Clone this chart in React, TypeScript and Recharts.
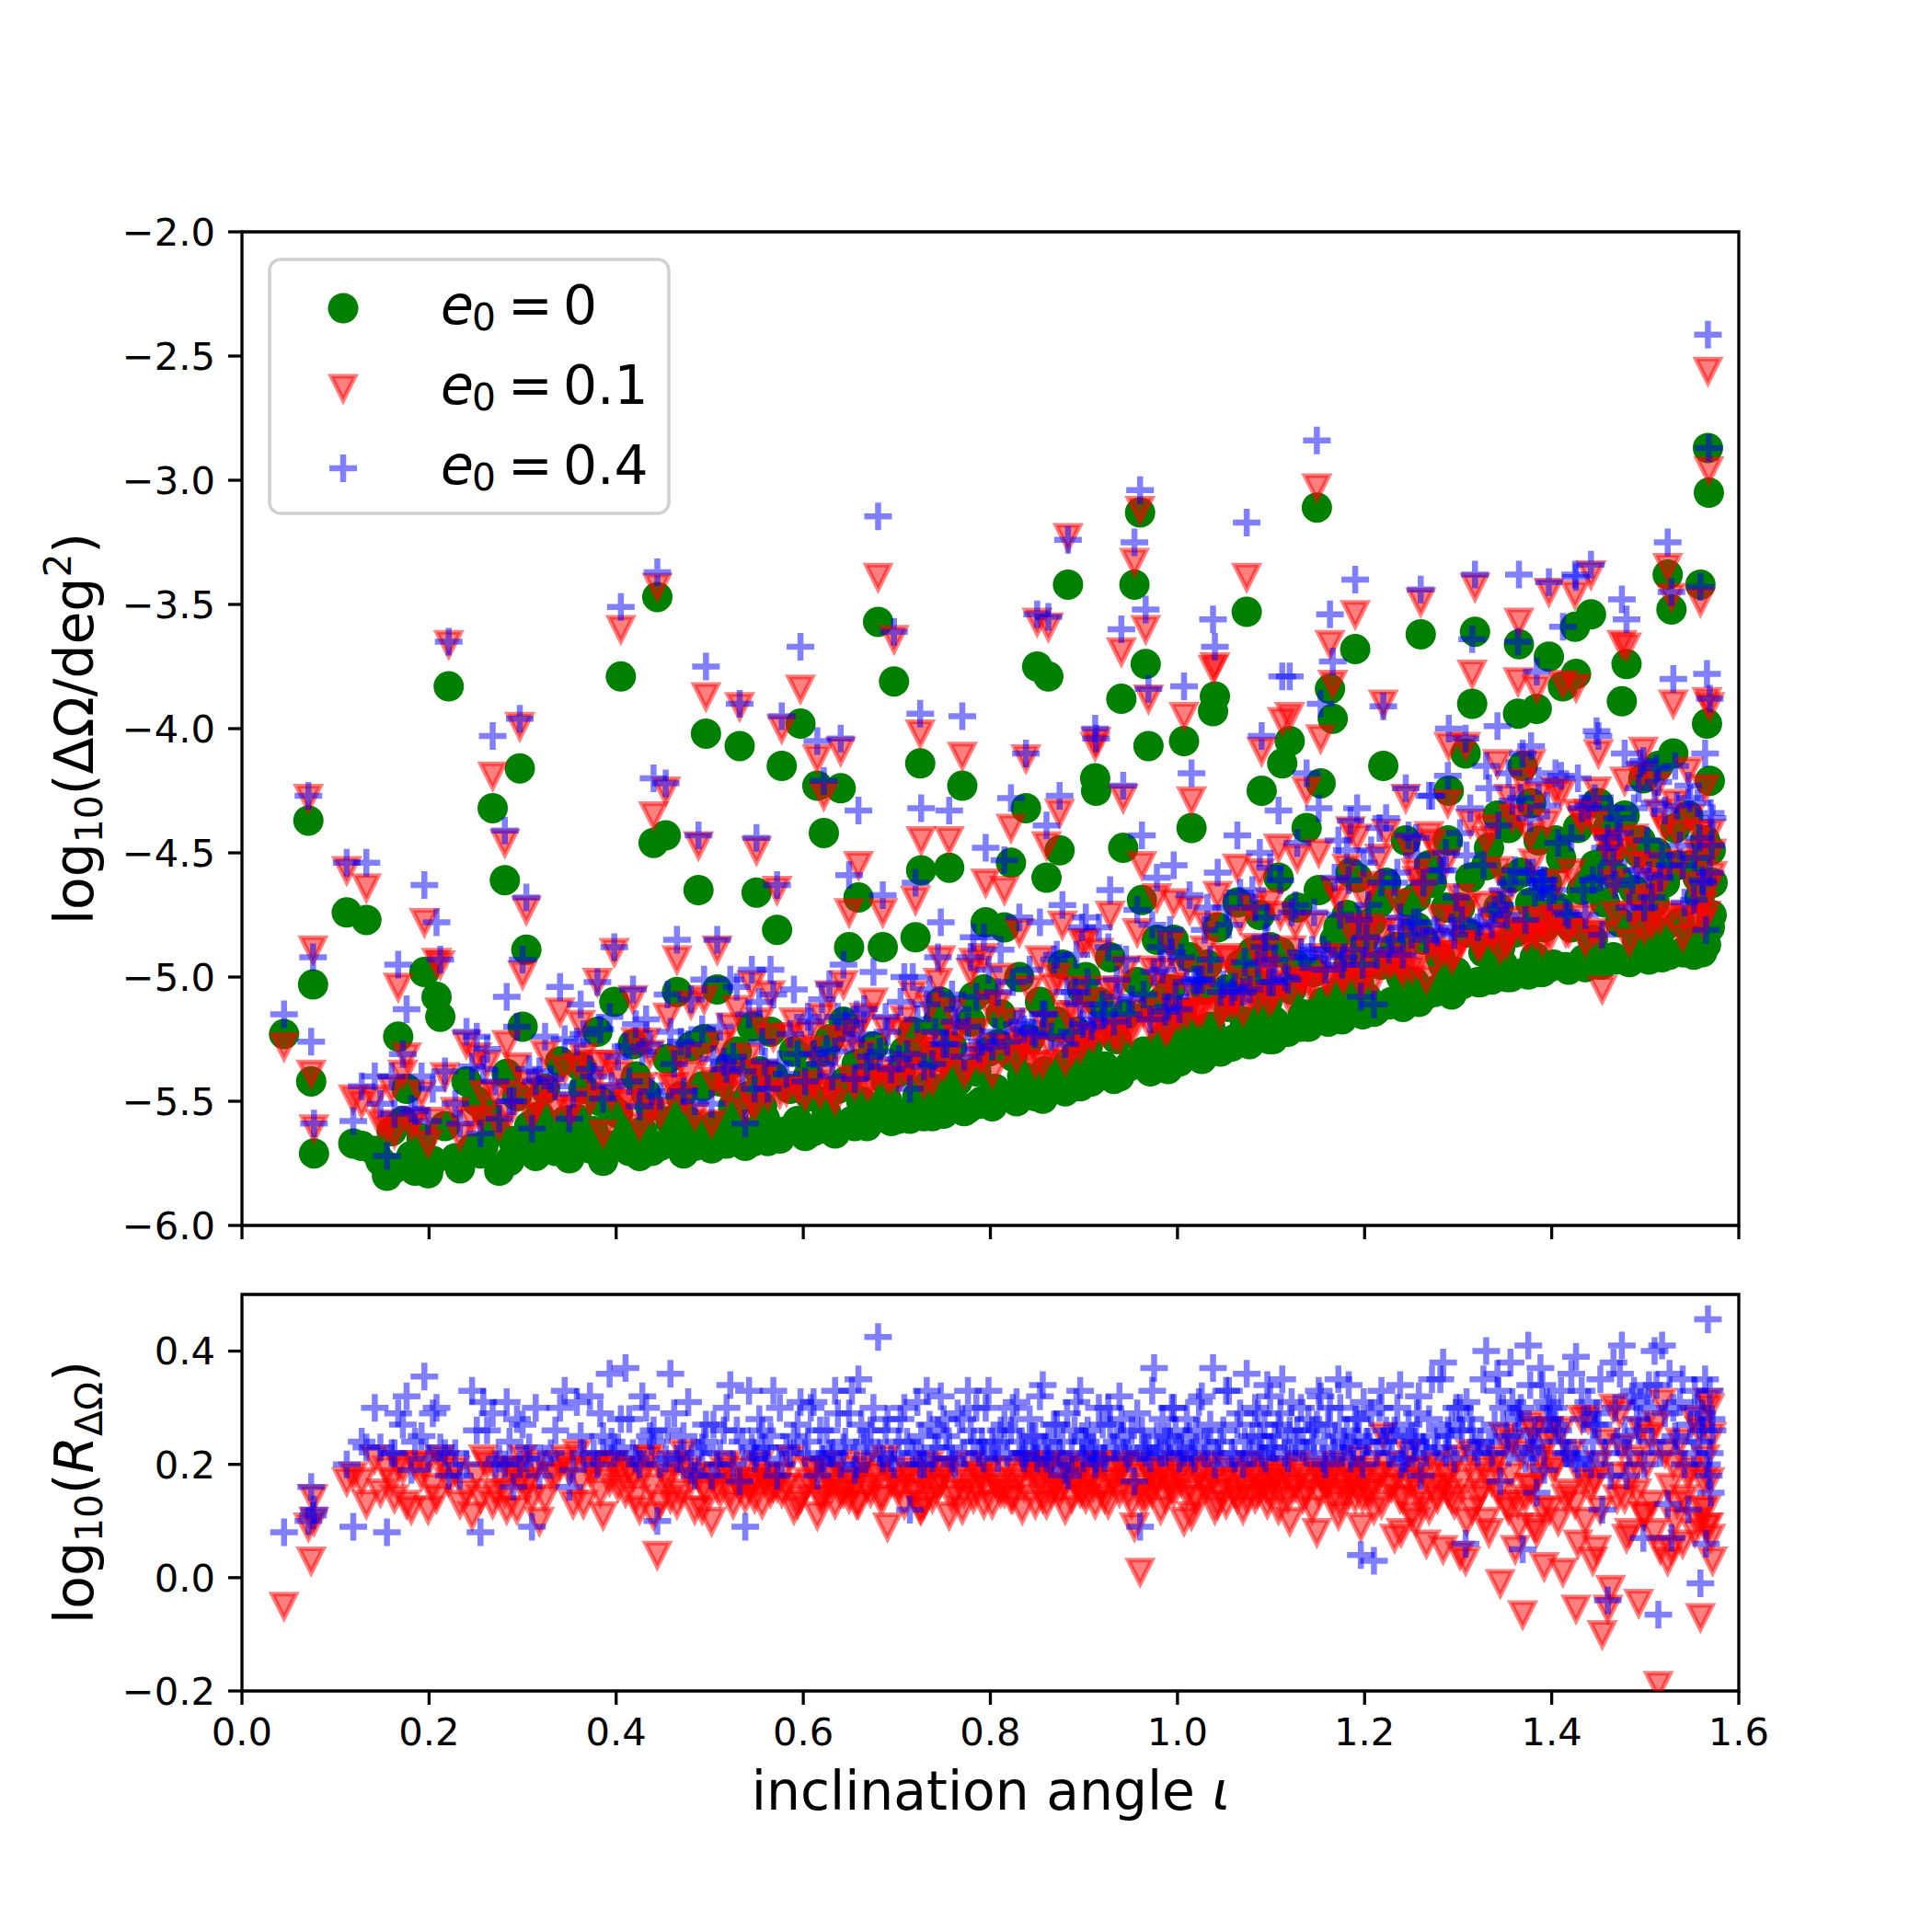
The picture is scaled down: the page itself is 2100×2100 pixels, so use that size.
import React from "react"
import { ScatterChart, Scatter, XAxis, YAxis, ReferenceArea } from "recharts"

// inclination of each simulated system (shared by both panels) - sparse / outlying systems
const incl = [
  0.045, 0.071, 0.074, 0.076, 0.077,
  0.112, 0.119, 0.133, 0.148, 0.155, 0.16, 0.167, 0.176, 0.185, 0.195, 0.199,
  0.208, 0.212, 0.221, 0.228, 0.24, 0.246, 0.255, 0.262, 0.268, 0.275, 0.281, 0.283, 0.29, 0.297, 0.3,
  0.304, 0.31, 0.318, 0.33, 0.34, 0.35, 0.358, 0.365, 0.372, 0.38, 0.386, 0.393, 0.398,
  0.405, 0.41, 0.418, 0.425, 0.432, 0.438, 0.44, 0.444, 0.453, 0.458, 0.465, 0.472, 0.48, 0.488, 0.492, 0.496,
  0.502, 0.508, 0.515, 0.522, 0.532, 0.538, 0.545, 0.55, 0.556, 0.562, 0.568, 0.572, 0.577, 0.582, 0.59, 0.597,
  0.602, 0.608, 0.615, 0.618, 0.622, 0.628, 0.634, 0.64, 0.645, 0.649, 0.655, 0.659, 0.665, 0.672, 0.68, 0.685, 0.69, 0.697,
  0.702, 0.708, 0.714, 0.72, 0.725, 0.726, 0.732, 0.738, 0.744, 0.75, 0.756, 0.762, 0.77, 0.776, 0.782, 0.788, 0.795,
  0.802, 0.808, 0.815, 0.822, 0.828, 0.834, 0.838, 0.845, 0.85, 0.856, 0.86, 0.862, 0.868, 0.874, 0.88, 0.883, 0.89, 0.896,
  0.902, 0.908, 0.912, 0.913, 0.92, 0.926, 0.932, 0.94, 0.942, 0.948, 0.954, 0.96, 0.962, 0.966, 0.969, 0.975, 0.982, 0.99, 0.996,
  1.002, 1.007, 1.015, 1.02, 1.026, 1.032, 1.038, 1.04, 1.046, 1.052, 1.058, 1.064, 1.07, 1.074, 1.08, 1.086, 1.09, 1.096,
  1.102, 1.108, 1.112, 1.118, 1.12, 1.126, 1.132, 1.138, 1.144, 1.149, 1.153, 1.158, 1.163, 1.166, 1.172, 1.178, 1.185, 1.19, 1.196,
  1.204, 1.21, 1.216, 1.22, 1.226, 1.232, 1.238, 1.244, 1.25, 1.256, 1.26, 1.266, 1.272, 1.278, 1.284, 1.29, 1.296,
  1.302, 1.308, 1.315, 1.318, 1.324, 1.33, 1.336, 1.342, 1.345, 1.352, 1.358, 1.364, 1.365, 1.369, 1.375, 1.38, 1.384, 1.39, 1.397,
  1.404, 1.412, 1.418, 1.425, 1.426, 1.432, 1.436, 1.442, 1.448, 1.454, 1.46, 1.466, 1.47, 1.475, 1.48, 1.486, 1.493, 1.498,
  1.504, 1.51, 1.514, 1.518, 1.524, 1.528, 1.53, 1.534, 1.54, 1.546, 1.552, 1.556, 1.559, 1.562, 1.566, 1.567, 1.568, 1.569, 1.57, 1.571, 1.565,
]

// log10(dOmega/deg^2), e0 = 0
const gTop = [
  -5.23, -4.37, -5.42, -5.03, -5.71,
  -4.74, -5.67, -4.77, -5.74, -5.8, -5.62, -5.24, -5.45, -5.78, -4.98, -5.79,
  -5.08, -5.16, -3.83, -5.73, -5.42, -5.69, -5.71, -5.55, -4.32, -5.78, -4.61, -5.39, -5.66, -4.16, -5.2,
  -4.89, -5.7, -5.56, -5.63, -5.34, -5.73, -5.57, -5.45, -5.69, -5.22, -5.74, -5.52, -5.1,
  -3.79, -5.65, -5.27, -5.72, -5.47, -5.7, -4.46, -3.47, -4.43, -5.58, -5.06, -5.71, -5.28, -4.65, -5.44, -4.02,
  -5.69, -5.05, -5.6, -5.35, -4.07, -5.68, -5.2, -4.66, -5.52, -5.66, -5.4, -4.81, -4.15, -5.62, -5.3, -3.98,
  -5.64, -5.48, -4.23, -5.61, -4.42, -5.25, -5.63, -4.24, -5.42, -4.88, -5.6, -4.68, -5.36, -5.58, -3.57, -4.88, -5.5, -3.81,
  -5.57, -5.3, -5.57, -4.84, -4.14, -4.57, -5.44, -5.56, -5.18, -5.55, -4.56, -5.38, -4.23, -5.53, -5.08, -5.51, -4.78,
  -5.52, -5.27, -4.8, -4.54, -5.5, -5.4, -4.32, -5.47, -3.75, -5.49, -4.6, -3.79, -5.2, -4.49, -5.46, -3.42, -5.32, -5.44,
  -5.0, -5.42, -4.2, -4.25, -5.38, -5.18, -5.41, -3.88, -4.48, -5.36, -3.42, -3.13, -4.69, -3.74, -4.07, -5.35, -5.1, -5.37, -4.85,
  -5.34, -4.05, -4.4, -5.28, -5.33, -4.95, -3.93, -3.87, -5.3, -5.05, -5.28, -4.7, -5.26, -3.53, -4.9, -5.24, -4.25, -5.1,
  -5.25, -4.6, -4.14, -5.22, -4.05, -4.95, -5.2, -4.4, -5.15, -3.11, -4.22, -5.17, -3.84, -3.96, -4.8, -5.16, -4.58, -3.68, -5.12,
  -4.95, -5.14, -4.7, -4.15, -5.11, -4.88, -5.1, -4.45, -5.08, -4.8, -3.62, -5.07, -4.62, -5.05, -4.95, -4.25, -5.04,
  -4.72, -4.1, -3.9, -3.61, -5.02, -4.55, -5.01, -4.35, -4.88, -5.0, -4.6, -3.94, -3.66, -4.15, -4.99, -4.8, -3.92, -4.98, -3.71,
  -4.45, -3.83, -4.97, -3.59, -3.78, -4.65, -4.96, -3.54, -4.3, -4.95, -4.4, -4.92, -4.6, -3.89, -3.74, -4.93, -4.5, -4.2,
  -4.93, -4.7, -4.15, -4.92, -3.38, -3.52, -4.1, -4.55, -4.9, -4.35, -4.91, -4.6, -3.42, -4.88, -3.98, -2.87, -3.05, -4.21, -4.49, -4.75, -4.87,
]

// log10(dOmega/deg^2), e0 = 0.1
const rTop = [
  -5.28, -4.28, -5.39, -4.89, -5.61,
  -4.57, -5.49, -4.64, -5.59, -5.61, -5.45, -5.04, -5.32, -5.58, -4.78, -5.67,
  -4.94, -4.95, -3.66, -5.54, -5.27, -5.58, -5.57, -5.35, -4.19, -5.6, -4.46, -5.27, -5.47, -3.99, -4.99,
  -4.73, -5.56, -5.46, -5.45, -5.14, -5.54, -5.35, -5.32, -5.5, -5.02, -5.63, -5.35, -4.9,
  -3.6, -5.5, -5.09, -5.6, -5.26, -5.54, -4.35, -3.43, -4.25, -5.44, -4.93, -5.49, -5.11, -4.47, -5.32, -3.87,
  -5.59, -4.89, -5.41, -5.2, -3.91, -5.54, -5.03, -4.49, -5.39, -5.48, -5.24, -4.65, -4.0, -5.46, -5.18, -3.84,
  -5.48, -5.29, -4.12, -5.47, -4.27, -5.07, -5.5, -4.09, -5.25, -4.74, -5.44, -4.55, -5.16, -5.43, -3.39, -4.74, -5.41, -3.64,
  -5.41, -5.17, -5.39, -4.69, -4.02, -4.45, -5.27, -5.42, -5.02, -5.36, -4.45, -5.23, -4.11, -5.36, -4.94, -5.33, -4.62,
  -5.39, -5.11, -4.65, -4.4, -5.33, -5.28, -4.12, -5.29, -3.57, -5.35, -4.47, -3.59, -5.04, -4.34, -5.34, -3.23, -5.15, -5.29,
  -4.86, -5.24, -4.07, -4.05, -5.22, -5.05, -5.24, -3.69, -4.28, -5.21, -3.33, -3.12, -4.55, -3.6, -3.88, -5.18, -4.98, -5.21, -4.7,
  -5.16, -3.95, -4.29, -5.14, -5.14, -4.79, -3.76, -3.75, -5.15, -4.92, -5.11, -4.56, -5.14, -3.39, -4.72, -5.09, -4.09, -4.97,
  -5.08, -4.48, -3.97, -5.08, -3.95, -4.79, -5.02, -4.25, -5.03, -3.03, -4.04, -5.01, -3.66, -3.82, -4.69, -5.01, -4.41, -3.54, -5.03,
  -4.8, -5.02, -4.52, -3.9, -4.95, -4.81, -4.96, -4.28, -4.97, -4.61, -3.49, -5.01, -4.46, -4.91, -4.9, -4.07, -4.91,
  -4.68, -4.07, -3.78, -3.43, -4.87, -4.45, -4.84, -4.14, -4.89, -4.87, -4.36, -3.81, -3.57, -4.215, -4.83, -4.54, -3.84, -4.86, -3.45,
  -4.25, -3.82, -4.82, -3.46, -3.835, -4.37, -4.86, -3.38, -4.25, -5.05, -4.455, -4.62, -4.46, -3.66, -3.67, -4.75, -4.545, -4.09,
  -4.68, -4.62, -4.34, -4.61, -3.35, -3.47, -3.9, -4.42, -4.84, -4.17, -4.63, -4.5, -3.49, -4.71, -3.89, -2.56, -2.96, -3.91, -4.42, -4.5, -4.75,
]

// log10(dOmega/deg^2), e0 = 0.4
const bTop = [
  -5.15, -4.27, -5.26, -4.92, -5.59,
  -4.54, -5.58, -4.54, -5.51, -5.72, -5.4, -4.95, -5.13, -5.54, -4.63, -5.58,
  -4.78, -4.93, -3.65, -5.51, -5.22, -5.36, -5.63, -5.29, -4.03, -5.57, -4.41, -5.08, -5.5, -3.96, -4.93,
  -4.68, -5.61, -5.38, -5.41, -5.04, -5.57, -5.26, -5.23, -5.37, -5.02, -5.49, -5.16, -4.88,
  -3.51, -5.28, -5.05, -5.52, -5.17, -5.46, -4.2, -3.37, -4.22, -5.22, -4.85, -5.46, -5.09, -4.43, -5.21, -3.75,
  -5.51, -4.85, -5.34, -5.01, -3.9, -5.59, -4.97, -4.44, -5.26, -5.45, -5.07, -4.63, -3.95, -5.39, -5.05, -3.67,
  -5.42, -5.18, -4.05, -5.35, -4.21, -5.03, -5.3, -4.04, -5.18, -4.59, -5.41, -4.33, -5.13, -5.32, -3.145, -4.67, -5.22, -3.61,
  -5.33, -5.0, -5.45, -4.62, -3.94, -4.32, -5.11, -5.35, -4.92, -5.27, -4.33, -5.18, -3.95, -5.2, -4.84, -5.29, -4.48,
  -5.28, -5.06, -4.53, -4.28, -5.19, -5.18, -4.1, -5.22, -3.54, -5.15, -4.39, -3.55, -4.93, -4.27, -5.27, -3.24, -5.06, -5.11,
  -4.76, -5.2, -4.0, -4.04, -5.11, -4.88, -5.18, -3.6, -4.23, -5.15, -3.25, -3.04, -4.43, -3.52, -3.84, -4.98, -4.88, -5.12, -4.55,
  -5.13, -3.83, -4.18, -5.02, -5.01, -4.72, -3.56, -3.67, -5.06, -4.72, -5.06, -4.43, -5.06, -3.17, -4.65, -4.95, -4.03, -4.76,
  -5.02, -4.33, -3.79, -5.01, -3.79, -4.71, -4.9, -4.18, -4.89, -2.84, -3.9, -4.97, -3.54, -3.73, -4.45, -4.92, -4.37, -3.4, -5.08,
  -4.71, -5.11, -4.4, -3.91, -4.89, -4.62, -4.76, -4.24, -4.83, -4.51, -3.44, -4.85, -4.27, -4.82, -4.57, -4.0, -4.83,
  -4.42, -4.04, -3.64, -3.38, -4.78, -4.15, -4.79, -3.99, -4.71, -4.75, -4.29, -3.65, -3.38, -4.1, -4.58, -4.58, -3.77, -4.64, -3.41,
  -4.18, -3.59, -4.75, -3.38, -3.39, -4.32, -4.75, -3.34, -4.01, -4.83, -4.44, -4.54, -4.36, -3.48, -3.56, -4.61, -4.24, -4.13,
  -4.59, -4.3, -4.215, -4.51, -3.25, -3.45, -3.8, -4.31, -4.55, -4.23, -4.69, -4.3, -3.43, -4.62, -3.78, -2.414, -2.87, -3.88, -4.34, -4.47, -4.81,
]

// log10(R_dOmega), e0 = 0.1
const rRatio = [
  -0.05, 0.09, 0.03, 0.14, 0.1,
  0.17, 0.18, 0.13, 0.15, 0.19, 0.17, 0.2, 0.13, 0.2, 0.2, 0.12,
  0.14, 0.21, 0.17, 0.19, 0.15, 0.11, 0.14, 0.2, 0.13, 0.18, 0.15, 0.12, 0.19, 0.17, 0.21,
  0.16, 0.14, 0.1, 0.18, 0.2, 0.19, 0.22, 0.13, 0.19, 0.2, 0.11, 0.17, 0.2,
  0.19, 0.15, 0.18, 0.12, 0.21, 0.16, 0.11, 0.04, 0.18, 0.14, 0.13, 0.22, 0.17, 0.18, 0.12, 0.15,
  0.1, 0.16, 0.19, 0.15, 0.16, 0.14, 0.17, 0.17, 0.13, 0.18, 0.16, 0.16, 0.15, 0.16, 0.12, 0.14,
  0.16, 0.19, 0.11, 0.14, 0.15, 0.18, 0.13, 0.15, 0.17, 0.14, 0.16, 0.13, 0.2, 0.15, 0.18, 0.14, 0.09, 0.17,
  0.16, 0.13, 0.18, 0.15, 0.12, 0.12, 0.17, 0.14, 0.16, 0.19, 0.11, 0.15, 0.12, 0.17, 0.14, 0.18, 0.16,
  0.13, 0.16, 0.15, 0.14, 0.17, 0.12, 0.2, 0.18, 0.18, 0.14, 0.13, 0.2, 0.16, 0.15, 0.12, 0.19, 0.17, 0.15,
  0.14, 0.18, 0.13, 0.2, 0.16, 0.13, 0.17, 0.19, 0.2, 0.15, 0.09, 0.01, 0.14, 0.14, 0.19, 0.17, 0.12, 0.16, 0.15,
  0.18, 0.1, 0.11, 0.14, 0.19, 0.16, 0.17, 0.12, 0.15, 0.13, 0.17, 0.14, 0.12, 0.14, 0.18, 0.15, 0.16, 0.13,
  0.17, 0.12, 0.17, 0.14, 0.1, 0.16, 0.18, 0.15, 0.12, 0.08, 0.18, 0.16, 0.18, 0.14, 0.11, 0.15, 0.17, 0.14, 0.09,
  0.15, 0.12, 0.18, 0.25, 0.16, 0.07, 0.14, 0.17, 0.11, 0.19, 0.13, 0.06, 0.16, 0.14, 0.05, 0.18, 0.13,
  0.04, 0.03, 0.12, 0.18, 0.15, 0.1, 0.17, 0.21, -0.01, 0.13, 0.24, 0.13, 0.09, -0.065, 0.16, 0.26, 0.08, 0.12, 0.26,
  0.2, 0.01, 0.15, 0.13, -0.055, 0.28, 0.1, 0.16, 0.05, -0.1, -0.055, 0.3, 0.14, 0.23, 0.07, 0.18, -0.045, 0.11,
  0.25, 0.08, -0.19, 0.31, 0.03, 0.05, 0.2, 0.13, 0.06, 0.18, 0.28, 0.1, -0.07, 0.17, 0.09, 0.31, 0.09, 0.3, 0.07, 0.25, 0.12,
]

// log10(R_dOmega), e0 = 0.4
const bRatio = [
  0.08, 0.1, 0.16, 0.11, 0.12,
  0.2, 0.09, 0.23, 0.23, 0.08, 0.22, 0.29, 0.32, 0.24, 0.355, 0.21,
  0.3, 0.23, 0.18, 0.22, 0.2, 0.33, 0.08, 0.26, 0.29, 0.21, 0.2, 0.31, 0.16, 0.2, 0.27,
  0.21, 0.09, 0.18, 0.22, 0.3, 0.16, 0.31, 0.22, 0.32, 0.2, 0.25, 0.36, 0.22,
  0.28, 0.37, 0.22, 0.2, 0.3, 0.24, 0.26, 0.1, 0.21, 0.36, 0.21, 0.25, 0.19, 0.22, 0.23, 0.27,
  0.18, 0.2, 0.26, 0.34, 0.17, 0.09, 0.23, 0.22, 0.26, 0.21, 0.33, 0.18, 0.2, 0.23, 0.25, 0.31,
  0.22, 0.3, 0.18, 0.26, 0.21, 0.22, 0.33, 0.2, 0.24, 0.29, 0.19, 0.35, 0.23, 0.26, 0.425, 0.21, 0.28, 0.2,
  0.24, 0.3, 0.12, 0.22, 0.2, 0.25, 0.33, 0.21, 0.26, 0.28, 0.23, 0.2, 0.28, 0.33, 0.24, 0.22, 0.3,
  0.24, 0.21, 0.27, 0.26, 0.31, 0.22, 0.22, 0.25, 0.21, 0.34, 0.21, 0.24, 0.27, 0.22, 0.19, 0.18, 0.26, 0.33,
  0.24, 0.22, 0.2, 0.21, 0.27, 0.3, 0.23, 0.28, 0.25, 0.21, 0.17, 0.09, 0.26, 0.22, 0.23, 0.37, 0.22, 0.25, 0.3,
  0.21, 0.22, 0.22, 0.26, 0.32, 0.23, 0.37, 0.2, 0.24, 0.33, 0.22, 0.27, 0.2, 0.36, 0.25, 0.29, 0.22, 0.34,
  0.23, 0.27, 0.35, 0.21, 0.26, 0.24, 0.3, 0.22, 0.26, 0.27, 0.32, 0.2, 0.3, 0.23, 0.35, 0.24, 0.21, 0.28, 0.04,
  0.24, 0.03, 0.3, 0.24, 0.22, 0.26, 0.34, 0.21, 0.25, 0.29, 0.18, 0.22, 0.35, 0.23, 0.38, 0.25, 0.21,
  0.3, 0.06, 0.26, 0.23, 0.24, 0.4, 0.22, 0.36, 0.17, 0.25, 0.31, 0.29, 0.28, 0.05, 0.41, 0.22, 0.15, 0.34, 0.3,
  0.27, 0.24, 0.22, 0.21, 0.39, 0.33, 0.21, 0.2, 0.29, 0.12, -0.04, 0.38, 0.24, 0.41, 0.18, 0.32, 0.26, 0.07,
  0.34, 0.4, -0.065, 0.41, 0.13, 0.07, 0.3, 0.24, 0.35, 0.12, 0.22, 0.3, -0.01, 0.26, 0.2, 0.456, 0.18, 0.33, 0.15, 0.28, 0.06,
]

// systems inside the dense lower band
const bandIncl = [
  0.128, 0.142, 0.163, 0.172, 0.181, 0.192,
  0.204, 0.217, 0.233, 0.251, 0.258, 0.271, 0.286, 0.294,
  0.307, 0.314, 0.324, 0.335, 0.345, 0.354, 0.362, 0.376, 0.383, 0.395,
  0.402, 0.414, 0.421, 0.428, 0.436, 0.447, 0.455, 0.462, 0.469, 0.477, 0.484, 0.494,
  0.504, 0.511, 0.518, 0.525, 0.529, 0.535, 0.542, 0.548, 0.553, 0.559, 0.565, 0.575, 0.586, 0.594,
  0.605, 0.611, 0.62, 0.625, 0.631, 0.637, 0.643, 0.652, 0.657, 0.662, 0.668, 0.675, 0.682, 0.688, 0.694,
  0.704, 0.711, 0.717, 0.722, 0.729, 0.735, 0.741, 0.747, 0.753, 0.759, 0.765, 0.772, 0.779, 0.785, 0.791, 0.793, 0.798,
  0.805, 0.811, 0.818, 0.824, 0.831, 0.836, 0.842, 0.848, 0.853, 0.858, 0.865, 0.871, 0.877, 0.882, 0.887, 0.892, 0.898, 0.899,
  0.904, 0.91, 0.916, 0.922, 0.928, 0.935, 0.938, 0.945, 0.951, 0.957, 0.964, 0.971, 0.973, 0.978, 0.984, 0.987, 0.992, 0.994, 0.998,
  1.004, 1.01, 1.013, 1.018, 1.023, 1.029, 1.035, 1.043, 1.049, 1.055, 1.061, 1.067, 1.072, 1.077, 1.083, 1.088, 1.093, 1.098, 1.099, 1.094,
  1.104, 1.11, 1.115, 1.122, 1.128, 1.134, 1.14, 1.146, 1.151, 1.156, 1.161, 1.168, 1.174, 1.176, 1.181, 1.183, 1.188, 1.192, 1.194, 1.198, 1.199,
  1.202, 1.207, 1.213, 1.218, 1.223, 1.229, 1.235, 1.241, 1.247, 1.253, 1.258, 1.263, 1.269, 1.275, 1.281, 1.287, 1.293, 1.298, 1.255, 1.239, 1.289,
  1.304, 1.309, 1.313, 1.321, 1.327, 1.333, 1.339, 1.343, 1.348, 1.354, 1.356, 1.361, 1.367, 1.372, 1.377, 1.382, 1.386, 1.388, 1.392, 1.395, 1.398, 1.378,
  1.402, 1.407, 1.41, 1.415, 1.421, 1.428, 1.434, 1.439, 1.444, 1.45, 1.452, 1.457, 1.463, 1.468, 1.473, 1.478, 1.483, 1.488, 1.491, 1.495, 1.499, 1.446,
  1.502, 1.507, 1.512, 1.516, 1.521, 1.526, 1.532, 1.537, 1.542, 1.548, 1.553, 1.558, 1.561, 1.564, 1.569, 1.572,
]

const bandG = [
  -5.68, -5.7, -5.77, -5.58, -5.72, -5.65,
  -5.74, -5.6, -5.77, -5.5, -5.68, -5.62, -5.74, -5.48,
  -5.6, -5.72, -5.45, -5.7, -5.58, -5.66, -5.36, -5.62, -5.5, -5.68,
  -5.55, -5.7, -5.4, -5.62, -5.52, -5.68, -5.33, -5.64, -5.48, -5.58, -5.68, -5.25,
  -5.6, -5.42, -5.67, -5.52, -5.3, -5.62, -5.48, -5.66, -5.38, -5.57, -5.22, -5.65, -5.45, -5.58,
  -5.4, -5.62, -5.3, -5.55, -5.62, -5.45, -5.18, -5.58, -5.35, -5.5, -5.6, -5.28, -5.52, -5.42, -5.58,
  -5.38, -5.55, -5.22, -5.48, -5.56, -5.32, -5.45, -5.1, -5.52, -5.28, -5.42, -5.54, -5.18, -5.38, -5.5, -5.05, -5.3,
  -5.45, -5.15, -5.48, -5.32, -5.0, -5.42, -5.25, -5.48, -5.1, -5.38, -5.44, -5.18, -4.95, -5.35, -5.44, -5.22, -5.05, -5.4,
  -5.28, -5.4, -5.1, -5.36, -4.92, -5.25, -5.4, -5.15, -5.35, -5.02, -5.3, -5.38, -5.12, -4.85, -5.25, -5.36, -5.05, -5.2, -5.34,
  -5.15, -5.3, -4.92, -5.22, -5.32, -5.05, -5.2, -4.8, -5.29, -5.12, -5.25, -4.95, -5.18, -5.27, -5.02, -4.75, -5.15, -5.25, -4.88, -5.05,
  -5.18, -4.9, -5.22, -5.05, -4.72, -5.15, -5.2, -4.98, -4.65, -5.1, -5.18, -4.85, -5.05, -5.17, -4.75, -4.95, -5.12, -4.6, -5.02, -5.15, -4.85,
  -5.08, -4.78, -5.13, -4.95, -4.62, -5.1, -4.88, -5.12, -4.7, -5.02, -5.1, -4.85, -4.55, -5.06, -4.92, -4.72, -5.07, -4.98, -4.68, -5.0, -4.45,
  -5.03, -4.82, -4.6, -5.02, -4.9, -4.48, -5.0, -4.72, -4.95, -4.4, -5.0, -4.82, -4.58, -4.98, -4.7, -4.92, -4.45, -4.98, -4.8, -4.62, -4.96, -4.3,
  -4.95, -4.72, -4.52, -4.96, -4.8, -4.4, -4.93, -4.62, -4.85, -4.3, -4.95, -4.7, -4.5, -4.93, -4.78, -4.35, -4.94, -4.65, -4.85, -4.45, -4.92, -4.55,
  -4.75, -4.92, -4.5, -4.82, -4.62, -4.91, -4.4, -4.78, -4.9, -4.55, -4.85, -4.68, -4.9, -4.45, -4.8, -4.62,
]

const bandR = [
  -5.51, -5.49, -5.63, -5.39, -5.6, -5.47,
  -5.58, -5.4, -5.64, -5.32, -5.47, -5.47, -5.55, -5.36,
  -5.43, -5.52, -5.31, -5.52, -5.37, -5.53, -5.19, -5.43, -5.35, -5.48,
  -5.39, -5.51, -5.26, -5.44, -5.31, -5.55, -5.16, -5.44, -5.33, -5.39, -5.56, -5.09,
  -5.42, -5.27, -5.47, -5.39, -5.13, -5.43, -5.32, -5.52, -5.18, -5.4, -5.07, -5.47, -5.24, -5.45,
  -5.23, -5.43, -5.16, -5.37, -5.46, -5.25, -5.03, -5.41, -5.22, -5.31, -5.44, -5.1, -5.38, -5.21, -5.41,
  -5.22, -5.36, -5.07, -5.3, -5.43, -5.12, -5.29, -4.93, -5.33, -5.14, -5.24, -5.39, -4.98, -5.22, -5.32, -4.92, -5.11,
  -5.28, -5.0, -5.29, -5.18, -4.82, -5.26, -5.05, -5.35, -4.93, -5.19, -5.29, -5.0, -4.79, -5.15, -5.3, -5.05, -4.86, -5.25,
  -5.1, -5.24, -4.9, -5.22, -4.75, -5.06, -5.25, -4.97, -5.22, -4.82, -5.14, -5.2, -4.97, -4.68, -5.06, -5.22, -4.87, -5.04, -5.14,
  -4.98, -5.15, -4.73, -5.08, -5.14, -4.89, -5.0, -4.67, -5.12, -4.93, -5.1, -4.77, -5.02, -5.07, -4.88, -4.58, -4.96, -5.1, -4.7, -4.89,
  -5.0, -4.75, -5.03, -4.89, -4.52, -5.01, -5.03, -4.79, -4.5, -4.92, -5.02, -4.65, -4.92, -5.0, -4.56, -4.8, -4.94, -4.44, -4.81, -5.01, -4.68,
  -4.89, -4.63, -4.95, -4.82, -4.42, -4.94, -4.7, -4.98, -4.48, -4.85, -4.95, -4.66, -4.43, -4.86, -4.76, -4.54, -4.93, -4.77, -4.58, -4.92, -4.3,
  -4.86, -4.72, -4.38, -4.88, -4.71, -4.4, -4.8, -4.57, -4.7, -4.28, -4.82, -4.77, -4.36, -4.84, -4.43, -4.83, -4.27, -4.77, -4.78, -4.38, -4.84, -4.14,
  -4.76, -4.62, -4.26, -4.82, -4.58, -4.34, -4.76, -4.34, -4.82, -4.1, -4.83, -4.46, -4.52, -4.75, -4.49, -4.21, -4.86, -4.44, -4.7, -4.19, -4.81, -4.38,
  -4.55, -4.79, -4.23, -4.77, -4.4, -4.75, -4.3, -4.54, -4.76, -4.36, -4.77, -4.42, -4.78, -4.24, -4.63, -4.59,
]

const bandB = [
  -5.44, -5.4, -5.55, -5.31, -5.53, -5.4,
  -5.45, -5.38, -5.59, -5.24, -5.37, -5.42, -5.5, -5.2,
  -5.37, -5.42, -5.24, -5.44, -5.25, -5.47, -5.11, -5.4, -5.21, -5.44,
  -5.32, -5.42, -5.19, -5.3, -5.27, -5.48, -5.07, -5.35, -5.26, -5.27, -5.5, -5.01,
  -5.33, -5.2, -5.37, -5.32, -5.04, -5.38, -5.15, -5.45, -5.1, -5.34, -4.97, -5.35, -5.23, -5.31,
  -5.16, -5.31, -5.09, -5.29, -5.4, -5.16, -4.95, -5.25, -5.15, -5.23, -5.36, -4.98, -5.3, -5.16, -5.37,
  -5.1, -5.31, -5.0, -5.17, -5.36, -5.05, -5.22, -4.78, -5.27, -5.07, -5.13, -5.32, -4.92, -5.08, -5.26, -4.84, -4.97,
  -5.22, -4.89, -5.26, -5.02, -4.76, -5.21, -4.97, -5.23, -4.78, -5.15, -5.24, -4.91, -4.71, -5.06, -5.22, -4.91, -4.8, -5.19,
  -5.02, -5.17, -4.8, -5.15, -4.65, -5.01, -5.08, -4.93, -5.09, -4.73, -5.07, -5.17, -4.79, -4.6, -4.97, -5.14, -4.81, -4.9, -5.08,
  -4.92, -5.02, -4.67, -5.01, -5.01, -4.81, -4.93, -4.58, -5.03, -4.79, -5.04, -4.66, -4.94, -5.05, -4.72, -4.5, -4.88, -5.02, -4.56, -4.84,
  -4.93, -4.61, -5.0, -4.74, -4.46, -4.92, -4.92, -4.74, -4.32, -4.89, -4.91, -4.6, -4.75, -4.95, -4.49, -4.61, -4.89, -4.32, -4.77, -4.95, -4.54,
  -4.84, -4.49, -4.91, -4.62, -4.36, -4.85, -4.58, -4.91, -4.43, -4.78, -4.78, -4.62, -4.27, -4.81, -4.57, -4.5, -4.8, -4.68, -4.44, -4.8, -4.19,
  -4.77, -4.51, -4.32, -4.8, -4.55, -4.24, -4.73, -4.39, -4.65, -4.18, -4.62, -4.57, -4.28, -4.77, -4.36, -4.66, -4.21, -4.61, -4.61, -4.31, -4.68, -4.07,
  -4.65, -4.46, -4.19, -4.74, -4.44, -4.2, -4.65, -4.31, -4.61, -4.03, -4.6, -4.48, -4.32, -4.63, -4.42, -4.1, -4.72, -4.32, -4.57, -4.14, -4.72, -4.28,
  -4.45, -4.68, -4.16, -4.6, -4.33, -4.55, -4.15, -4.47, -4.7, -4.28, -4.52, -4.44, -4.61, -4.1, -4.58, -4.36,
]

const bandRRatio = [
  0.17, 0.21, 0.14, 0.19, 0.12, 0.18,
  0.16, 0.2, 0.13, 0.18, 0.21, 0.15, 0.19, 0.12,
  0.17, 0.2, 0.14, 0.18, 0.21, 0.13, 0.17, 0.19, 0.15, 0.2,
  0.16, 0.19, 0.14, 0.18, 0.21, 0.13, 0.17, 0.2, 0.15, 0.19, 0.12, 0.16,
  0.18, 0.15, 0.2, 0.13, 0.17, 0.19, 0.16, 0.14, 0.2, 0.17, 0.15, 0.18, 0.21, 0.13,
  0.17, 0.19, 0.14, 0.18, 0.16, 0.2, 0.15, 0.17, 0.13, 0.19, 0.16, 0.18, 0.14, 0.21, 0.17,
  0.16, 0.19, 0.15, 0.18, 0.13, 0.2, 0.16, 0.17, 0.19, 0.14, 0.18, 0.15, 0.2, 0.16, 0.18, 0.13, 0.19,
  0.17, 0.15, 0.19, 0.14, 0.18, 0.16, 0.2, 0.13, 0.17, 0.19, 0.15, 0.18, 0.16, 0.2, 0.14, 0.17, 0.19, 0.15,
  0.18, 0.16, 0.2, 0.14, 0.17, 0.19, 0.15, 0.18, 0.13, 0.2, 0.16, 0.18, 0.15, 0.17, 0.19, 0.14, 0.18, 0.16, 0.2,
  0.17, 0.15, 0.19, 0.14, 0.18, 0.16, 0.2, 0.13, 0.17, 0.19, 0.15, 0.18, 0.16, 0.2, 0.14, 0.17, 0.19, 0.15, 0.18, 0.16,
  0.18, 0.15, 0.19, 0.16, 0.2, 0.14, 0.17, 0.19, 0.15, 0.18, 0.16, 0.2, 0.13, 0.17, 0.19, 0.15, 0.18, 0.16, 0.21, 0.14, 0.17,
  0.19, 0.15, 0.18, 0.13, 0.2, 0.16, 0.18, 0.14, 0.22, 0.17, 0.15, 0.19, 0.12, 0.2, 0.16, 0.18, 0.14, 0.21, 0.1, 0.08, 0.15,
  0.17, 0.1, 0.22, 0.14, 0.19, 0.08, 0.2, 0.15, 0.25, 0.12, 0.18, 0.05, 0.22, 0.14, 0.27, 0.09, 0.18, 0.21, 0.02, 0.24, 0.12, 0.16,
  0.19, 0.1, 0.26, 0.14, 0.22, 0.06, 0.17, 0.28, 0.03, 0.2, 0.12, 0.24, -0.02, 0.18, 0.29, 0.14, 0.08, 0.21, 0.15, 0.26, 0.11, 0.17,
  0.2, 0.13, 0.27, 0.05, 0.22, 0.16, 0.1, 0.24, 0.14, 0.19, 0.08, 0.26, 0.12, 0.21, 0.17, 0.03,
]

const bandBRatio = [
  0.24, 0.3, 0.22, 0.27, 0.19, 0.25,
  0.29, 0.22, 0.18, 0.26, 0.31, 0.2, 0.24, 0.28,
  0.23, 0.3, 0.21, 0.26, 0.33, 0.19, 0.25, 0.22, 0.29, 0.24,
  0.23, 0.28, 0.21, 0.32, 0.25, 0.2, 0.26, 0.29, 0.22, 0.31, 0.18, 0.24,
  0.27, 0.22, 0.3, 0.2, 0.26, 0.24, 0.33, 0.21, 0.28, 0.23, 0.25, 0.3, 0.22, 0.27,
  0.24, 0.31, 0.21, 0.26, 0.22, 0.29, 0.23, 0.33, 0.2, 0.27, 0.24, 0.3, 0.22, 0.26, 0.21,
  0.28, 0.24, 0.22, 0.31, 0.2, 0.27, 0.23, 0.32, 0.25, 0.21, 0.29, 0.22, 0.26, 0.3, 0.24, 0.21, 0.33,
  0.23, 0.26, 0.22, 0.3, 0.24, 0.21, 0.28, 0.25, 0.32, 0.23, 0.2, 0.27, 0.24, 0.29, 0.22, 0.31, 0.25, 0.21,
  0.26, 0.23, 0.3, 0.21, 0.27, 0.24, 0.32, 0.22, 0.26, 0.29, 0.23, 0.21, 0.33, 0.25, 0.28, 0.22, 0.24, 0.3, 0.26,
  0.23, 0.28, 0.25, 0.21, 0.31, 0.24, 0.27, 0.22, 0.26, 0.33, 0.21, 0.29, 0.24, 0.22, 0.3, 0.25, 0.27, 0.23, 0.32, 0.21,
  0.25, 0.29, 0.22, 0.31, 0.26, 0.23, 0.28, 0.24, 0.33, 0.21, 0.27, 0.25, 0.3, 0.22, 0.26, 0.34, 0.23, 0.28, 0.25, 0.2, 0.31,
  0.24, 0.29, 0.22, 0.33, 0.26, 0.25, 0.3, 0.21, 0.27, 0.24, 0.32, 0.23, 0.28, 0.25, 0.35, 0.22, 0.27, 0.3, 0.24, 0.2, 0.26,
  0.26, 0.31, 0.28, 0.22, 0.35, 0.24, 0.27, 0.33, 0.3, 0.22, 0.38, 0.25, 0.3, 0.21, 0.34, 0.26, 0.24, 0.37, 0.19, 0.31, 0.28, 0.23,
  0.3, 0.26, 0.33, 0.22, 0.36, 0.2, 0.28, 0.31, 0.24, 0.27, 0.35, 0.22, 0.18, 0.3, 0.36, 0.25, 0.22, 0.33, 0.28, 0.31, 0.2, 0.27,
  0.3, 0.24, 0.34, 0.22, 0.29, 0.36, 0.25, 0.31, 0.2, 0.27, 0.33, 0.24, 0.29, 0.35, 0.22, 0.26,
]

const xTicks = [0, 0.2, 0.4, 0.6, 0.8, 1.0, 1.2, 1.4, 1.6]
const topYTicks = [-6, -5.5, -5, -4.5, -4, -3.5, -3, -2.5, -2]
const bottomYTicks = [-0.2, 0, 0.2, 0.4]
const legendValues = ["0", "0.1", "0.4"]

const FONT = "DejaVu Sans"
const TICK_FONT = 41.7
const LABEL_FONT = 58.3
const SUB_FONT = 40.8

const fmt = (v: number) => v.toFixed(1).replace("-", "\u2212")

const tickLine = { stroke: "#000", strokeWidth: 3.3 }
const tickText = { fill: "#000", fontSize: TICK_FONT, fontFamily: FONT }

const GreenDot = (p: any) => <circle cx={p.cx} cy={p.cy} r={16.5} fill="#008000" />

const RedTri = (p: any) => {
  const h = 13
  return (
    <path
      d={`M${p.cx - h},${p.cy - h}L${p.cx + h},${p.cy - h}L${p.cx},${p.cy + h}Z`}
      fill="#ff0000"
      fillOpacity={0.5}
      stroke="#ff0000"
      strokeOpacity={0.5}
      strokeWidth={5}
    />
  )
}

const BluePlus = (p: any) => {
  const h = 15
  return (
    <path
      d={`M${p.cx - h},${p.cy}H${p.cx + h}M${p.cx},${p.cy - h}V${p.cy + h}`}
      fill="none"
      stroke="#0000ff"
      strokeOpacity={0.5}
      strokeWidth={6.5}
    />
  )
}

const toPts = (xs: number[], ys: number[]) => xs.map((x, i) => ({ x, y: ys[i] }))

const greenPts = [...toPts(incl, gTop), ...toPts(bandIncl, bandG)]
const redPts = [...toPts(incl, rTop), ...toPts(bandIncl, bandR)]
const bluePts = [...toPts(incl, bTop), ...toPts(bandIncl, bandB)]
const redRatioPts = [...toPts(incl, rRatio), ...toPts(bandIncl, bandRRatio)]
const blueRatioPts = [...toPts(incl, bRatio), ...toPts(bandIncl, bandBRatio)]

function TopPanel() {
  return (
    <ScatterChart width={2100} height={1400} margin={{ top: 252, right: 210, bottom: 0, left: 0 }}>
      <XAxis
        type="number"
        dataKey="x"
        domain={[0, 1.6]}
        ticks={xTicks}
        interval={0}
        allowDataOverflow
        axisLine={false}
        tickLine={tickLine}
        tickSize={15}
        tickFormatter={() => ""}
        height={68}
      />
      <YAxis
        type="number"
        dataKey="y"
        domain={[-6, -2]}
        ticks={topYTicks}
        interval={0}
        allowDataOverflow
        axisLine={false}
        tickLine={tickLine}
        tickSize={15}
        tickMargin={14}
        tick={tickText}
        tickFormatter={fmt}
        width={263}
      />
      <Scatter data={greenPts} shape={GreenDot} isAnimationActive={false} />
      <Scatter data={redPts} shape={RedTri} isAnimationActive={false} />
      <Scatter data={bluePts} shape={BluePlus} isAnimationActive={false} />
      <ReferenceArea
        x1={0}
        x2={1.6}
        y1={-6}
        y2={-2}
        fill="none"
        stroke="#000"
        strokeWidth={3.3}
        ifOverflow="visible"
      />
    </ScatterChart>
  )
}

function BottomPanel() {
  return (
    <ScatterChart width={2100} height={700} margin={{ top: 7, right: 210, bottom: 0, left: 0 }}>
      <XAxis
        type="number"
        dataKey="x"
        domain={[0, 1.6]}
        ticks={xTicks}
        interval={0}
        allowDataOverflow
        axisLine={false}
        tickLine={tickLine}
        tickSize={15}
        tickMargin={14}
        tick={tickText}
        tickFormatter={fmt}
        height={262}
      />
      <YAxis
        type="number"
        dataKey="y"
        domain={[-0.2, 0.5]}
        ticks={bottomYTicks}
        interval={0}
        allowDataOverflow
        axisLine={false}
        tickLine={tickLine}
        tickSize={15}
        tickMargin={14}
        tick={tickText}
        tickFormatter={fmt}
        width={263}
      />
      <Scatter data={redRatioPts} shape={RedTri} isAnimationActive={false} />
      <Scatter data={blueRatioPts} shape={BluePlus} isAnimationActive={false} />
      <ReferenceArea
        x1={0}
        x2={1.6}
        y1={-0.2}
        y2={0.5}
        fill="none"
        stroke="#000"
        strokeWidth={3.3}
        ifOverflow="visible"
      />
    </ScatterChart>
  )
}

function Overlay() {
  const rows = [335, 422, 509]
  const markers = [GreenDot, RedTri, BluePlus]
  return (
    <svg
      width={2100}
      height={2100}
      style={{ position: "absolute", left: 0, top: 0, pointerEvents: "none" }}
      fontFamily={FONT}
    >
      {/* legend */}
      <rect x={293} y={282} width={434} height={276} rx={12} fill="#fff" fillOpacity={0.8} stroke="#d0d0d0" strokeWidth={3.5} />
      {rows.map((y, i) => {
        const M = markers[i]
        return (
          <g key={i}>
            <M cx={373} cy={y} />
            <text fontSize={LABEL_FONT} fill="#000">
              <tspan x={479} y={y + 17} fontStyle="italic">e</tspan>
              <tspan x={513} y={y + 24} fontSize={SUB_FONT}>0</tspan>
              <tspan x={552} y={y + 17}>=</tspan>
              <tspan x={612} y={y + 17}>{legendValues[i]}</tspan>
            </text>
          </g>
        )
      })}

      {/* axis labels */}
      <text transform="translate(101,792) rotate(-90)" textAnchor="middle" fontSize={LABEL_FONT} fill="#000">
        <tspan>log</tspan>
        <tspan fontSize={SUB_FONT} dy={10}>10</tspan>
        <tspan dy={-10}>(ΔΩ/deg</tspan>
        <tspan fontSize={SUB_FONT} dy={-24}>2</tspan>
        <tspan dy={24}>)</tspan>
      </text>
      <text transform="translate(101,1622) rotate(-90)" textAnchor="middle" fontSize={LABEL_FONT} fill="#000">
        <tspan>log</tspan>
        <tspan fontSize={SUB_FONT} dy={10}>10</tspan>
        <tspan dy={-10}>(</tspan>
        <tspan fontStyle="italic">R</tspan>
        <tspan fontSize={SUB_FONT} dy={10}>ΔΩ</tspan>
        <tspan dy={-10}>)</tspan>
      </text>
      <text x={1077} y={1967} textAnchor="middle" fontSize={LABEL_FONT} fill="#000">
        inclination angle <tspan fontStyle="italic">ι</tspan>
      </text>
    </svg>
  )
}

export default function App() {
  return (
    <div
      style={{
        position: "absolute",
        left: 0,
        top: 0,
        width: 2100,
        height: 2100,
        background: "#fff",
        fontFamily: FONT,
      }}
    >
      <div style={{ position: "absolute", left: 0, top: 0 }}>
        <TopPanel />
      </div>
      <div style={{ position: "absolute", left: 0, top: 1400 }}>
        <BottomPanel />
      </div>
      <Overlay />
    </div>
  )
}
